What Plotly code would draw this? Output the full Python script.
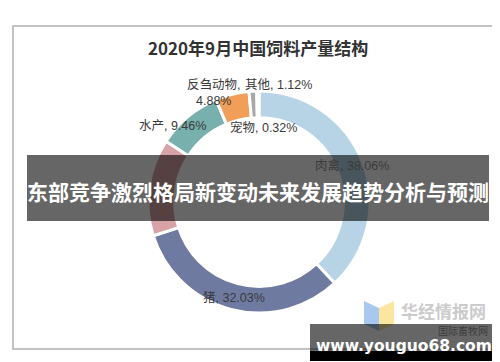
import math
import plotly.graph_objects as go

# ---- data ----
title = "2020年9月中国饲料产量结构"
categories = ["肉禽", "猪", "蛋禽", "水产", "反刍动物", "其他", "宠物"]
shares = [38.06, 32.03, 14.13, 9.46, 4.88, 1.12, 0.32]
banner_text = "东部竞争激烈格局新变动未来发展趋势分析与预测"
site_text = "www.youguo68.com"
logo_text = "华经情报网"
logo_sub = "国际畜牧网"

# ---- style ----
colors = ["#b7d4e6", "#6f7aa1", "#d8a3a6", "#78b0ad", "#f09e58", "#a8a8a8", "#d2d2d2"]
W, H = 500, 362
CX, CY, R = 251, 194, 111
HOLE = 0.76
LABEL_FONT = "Liberation Sans, Noto Sans CJK SC"
# label placement: "in" = on ring at slice mid-angle; tuple = pixel centre; None = hidden
label_place = ["in", "in", None, (164, 118), (205, 85), (270, 77), (255, 119)]

def px(x):
    return x / W

def py(y):
    return 1 - y / H

fig = go.Figure()
fig.add_trace(go.Pie(
    labels=categories, values=shares, sort=False, direction="clockwise", rotation=0,
    hole=HOLE, textinfo="none", hoverinfo="label+percent",
    marker=dict(colors=colors, line=dict(color="white", width=3)),
    domain=dict(x=[px(CX - R), px(CX + R)], y=[py(CY + R), py(CY - R)]),
    showlegend=False,
))

annotations = []
total = sum(shares)
cum = 0.0
for name, v, place in zip(categories, shares, label_place):
    mid = (cum + v / 2) / total
    cum += v
    if place is None:
        continue
    if place == "in":
        ang = mid * 2 * math.pi
        rr = R * (1 + HOLE) / 2 + 2
        x = CX + rr * math.sin(ang)
        y = CY - rr * math.cos(ang)
    else:
        x, y = place
    txt = f"{name}, {v:.2f}%"
    if name == "反刍动物":
        txt = f"{name},<br>{v:.2f}%"
    annotations.append(dict(x=px(x), y=py(y), xref="paper", yref="paper", text=txt,
                            showarrow=False, xanchor="center", yanchor="middle",
                            font=dict(family=LABEL_FONT, size=12.5, color="#3a3a3a")))

annotations.append(dict(x=px(250), y=py(40), xref="paper", yref="paper", text=f"<b>{title}</b>",
                        showarrow=False, xanchor="center", yanchor="middle",
                        font=dict(family="Noto Sans CJK SC", size=17, color="#333333")))
annotations.append(dict(x=px(250), y=py(183), xref="paper", yref="paper", text=f"<b>{banner_text}</b>",
                        showarrow=False, xanchor="center", yanchor="middle",
                        font=dict(family="Noto Sans CJK SC", size=21, color="white")))
annotations.append(dict(x=px(435), y=py(302), xref="paper", yref="paper", text=f"<b>{logo_text}</b>",
                        showarrow=False, xanchor="center", yanchor="middle",
                        font=dict(family="Noto Sans CJK SC", size=17, color="#cbcbcb")))
annotations.append(dict(x=px(455), y=py(322), xref="paper", yref="paper", text=logo_sub,
                        showarrow=False, xanchor="center", yanchor="middle",
                        font=dict(family="Noto Sans CJK SC", size=10, color="#3c3c3c")))
annotations.append(dict(x=px(396), y=py(338), xref="paper", yref="paper", text=f"<b>{site_text}</b>",
                        showarrow=False, xanchor="center", yanchor="middle",
                        font=dict(family="DejaVu Sans", size=15.5, color="white")))

def path(pts):
    return "M " + " L ".join(f"{px(a)},{py(b)}" for a, b in pts) + " Z"

shapes = [
    dict(type="rect", xref="paper", yref="paper", x0=px(5), x1=px(496), y0=py(341), y1=py(18),
         line=dict(color="#b0b0b0", width=1.5), fillcolor="rgba(0,0,0,0)", layer="below"),
    dict(type="path", xref="paper", yref="paper", path=path([(356, 293), (371, 300), (371, 323), (356, 316)]),
         fillcolor="#a9c8f0", line=dict(width=0), layer="above"),
    dict(type="path", xref="paper", yref="paper", path=path([(371, 300), (386, 293), (386, 316), (371, 323)]),
         fillcolor="#fbe6a0", line=dict(width=0), layer="above"),
    dict(type="rect", xref="paper", yref="paper", x0=px(19), x1=px(481), y0=py(213), y1=py(147),
         fillcolor="rgba(0,0,0,0.6)", line=dict(width=0), layer="above"),
    dict(type="rect", xref="paper", yref="paper", x0=px(302), x1=px(492), y0=py(343), y1=py(316),
         fillcolor="rgba(0,0,0,0.6)", line=dict(width=0), layer="above"),
    dict(type="rect", xref="paper", yref="paper", x0=px(302), x1=px(492), y0=py(353), y1=py(343),
         fillcolor="black", line=dict(width=0), layer="above"),
]

fig.update_layout(
    width=W, height=H, margin=dict(l=0, r=0, t=0, b=0),
    paper_bgcolor="white", plot_bgcolor="white",
    annotations=annotations, shapes=shapes,
)
fig.write_html("out.html")
